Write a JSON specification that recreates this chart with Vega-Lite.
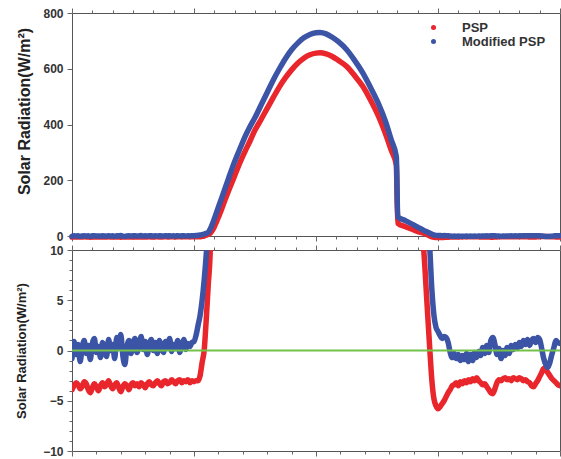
{
  "$schema": "https://vega.github.io/schema/vega-lite/v6.json",
  "padding": {"left": 15, "top": 6, "right": 0, "bottom": 0},
  "spacing": 0,
  "config": {
    "font": "Liberation Sans",
    "view": {"stroke": "#555", "strokeWidth": 1},
    "axis": {
      "domain": false, "grid": false, "tickColor": "#666", "tickWidth": 1, "labelOverlap": false,
      "labelFont": "Liberation Sans", "labelFontWeight": "bold", "labelFontSize": 12, "labelColor": "#333",
      "titleFont": "Liberation Sans", "titleFontWeight": "bold", "titleColor": "#222"
    }
  },
  "datasets": {
    "d": [
      {"h":0,"P":-3.9,"M":-0.8},{"h":0.1,"P":-3.5,"M":0.9},{"h":0.2,"P":-3.2,"M":-0.4},{"h":0.3,"P":-3.4,"M":0.6},
      {"h":0.4,"P":-3.8,"M":-1.1},{"h":0.5,"P":-3.6,"M":0.3},{"h":0.6,"P":-3.1,"M":1.0},{"h":0.7,"P":-3.3,"M":-0.3},
      {"h":0.8,"P":-3.9,"M":0.5},{"h":0.9,"P":-4.2,"M":-0.9},{"h":1.0,"P":-3.7,"M":0.7},{"h":1.1,"P":-3.3,"M":1.2},
      {"h":1.2,"P":-3.6,"M":-0.2},{"h":1.3,"P":-4.0,"M":0.4},{"h":1.4,"P":-3.5,"M":-0.7},{"h":1.5,"P":-3.2,"M":0.8},
      {"h":1.6,"P":-3.6,"M":0.2},{"h":1.7,"P":-3.4,"M":-0.6},{"h":1.8,"P":-3.0,"M":1.1},{"h":1.9,"P":-3.5,"M":0.0},
      {"h":2.0,"P":-3.8,"M":0.6},{"h":2.1,"P":-3.4,"M":-0.8},{"h":2.2,"P":-3.2,"M":1.3},{"h":2.3,"P":-3.7,"M":0.3},
      {"h":2.4,"P":-4.1,"M":1.6},{"h":2.5,"P":-3.6,"M":-0.5},{"h":2.6,"P":-3.3,"M":-1.4},{"h":2.7,"P":-3.5,"M":0.4},
      {"h":2.8,"P":-3.9,"M":1.0},{"h":2.9,"P":-3.4,"M":-0.3},{"h":3.0,"P":-3.2,"M":0.7},{"h":3.1,"P":-3.5,"M":1.2},
      {"h":3.2,"P":-3.3,"M":-0.2},{"h":3.3,"P":-3.6,"M":0.5},{"h":3.4,"P":-3.2,"M":1.4},{"h":3.5,"P":-3.4,"M":0.1},
      {"h":3.6,"P":-3.7,"M":0.9},{"h":3.7,"P":-3.3,"M":-0.4},{"h":3.8,"P":-3.1,"M":0.6},{"h":3.9,"P":-3.4,"M":1.1},
      {"h":4.0,"P":-3.5,"M":0.0},{"h":4.1,"P":-3.2,"M":0.8},{"h":4.2,"P":-3.0,"M":-0.3},{"h":4.3,"P":-3.3,"M":1.0},
      {"h":4.4,"P":-3.5,"M":0.4},{"h":4.5,"P":-3.1,"M":-0.2},{"h":4.6,"P":-3.0,"M":0.9},{"h":4.7,"P":-3.3,"M":0.3},
      {"h":4.8,"P":-3.2,"M":1.2},{"h":4.9,"P":-2.9,"M":-0.1},{"h":5.0,"P":-3.1,"M":0.6},{"h":5.1,"P":-3.3,"M":0.2},
      {"h":5.2,"P":-3.0,"M":1.0},{"h":5.3,"P":-2.9,"M":-0.2},{"h":5.4,"P":-3.2,"M":0.5},{"h":5.5,"P":-3.0,"M":1.1},
      {"h":5.6,"P":-3.1,"M":0.1},{"h":5.7,"P":-2.9,"M":0.7},{"h":5.8,"P":-3.2,"M":0.4},{"h":5.9,"P":-3.0,"M":0.8},
      {"h":6.0,"P":-3.1,"M":0.9},{"h":6.1,"P":-3.0,"M":1.5},{"h":6.2,"P":-3.0,"M":2.5},{"h":6.3,"P":-2.5,"M":3.5},
      {"h":6.4,"P":-1.2,"M":5.0},{"h":6.5,"P":0,"M":7.0},{"h":6.6,"P":3,"M":9.5},{"h":6.7,"P":6.5,"M":13},
      {"h":6.8,"P":10,"M":25},{"h":6.9,"P":20,"M":42},{"h":7.0,"P":33,"M":62},{"h":7.1,"P":50,"M":83},
      {"h":7.3,"P":85,"M":124},{"h":7.5,"P":125,"M":165},{"h":7.7,"P":162,"M":207},{"h":7.9,"P":198,"M":248},
      {"h":8.1,"P":235,"M":285},{"h":8.3,"P":270,"M":320},{"h":8.5,"P":302,"M":355},{"h":8.75,"P":340,"M":392},
      {"h":9.0,"P":380,"M":425},{"h":9.3,"P":418,"M":470},{"h":9.6,"P":458,"M":515},{"h":9.9,"P":497,"M":560},
      {"h":10.2,"P":535,"M":600},{"h":10.5,"P":568,"M":637},{"h":10.8,"P":596,"M":668},{"h":11.1,"P":620,"M":692},
      {"h":11.4,"P":638,"M":711},{"h":11.7,"P":650,"M":723},{"h":12.0,"P":656,"M":729},{"h":12.2,"P":657,"M":730},
      {"h":12.5,"P":653,"M":725},{"h":12.8,"P":644,"M":713},{"h":13.1,"P":630,"M":697},{"h":13.5,"P":609,"M":669},
      {"h":13.9,"P":575,"M":630},{"h":14.3,"P":537,"M":585},{"h":14.7,"P":485,"M":530},{"h":15.1,"P":425,"M":470},
      {"h":15.4,"P":370,"M":415},{"h":15.7,"P":308,"M":345},{"h":15.95,"P":255,"M":285},{"h":16.02,"P":46,"M":69},
      {"h":16.4,"P":33,"M":55},{"h":16.8,"P":22,"M":40},{"h":17.1,"P":14,"M":28},{"h":17.3,"P":10,"M":20},
      {"h":17.45,"P":5,"M":15},{"h":17.6,"P":0,"M":10},{"h":17.7,"P":-3,"M":6},{"h":17.8,"P":-4.8,"M":3.5},
      {"h":17.9,"P":-5.5,"M":2.3},{"h":18.0,"P":-5.8,"M":1.9},{"h":18.1,"P":-5.6,"M":1.5},{"h":18.2,"P":-5.3,"M":1.2},
      {"h":18.3,"P":-5.0,"M":1.4},{"h":18.4,"P":-4.6,"M":1.3},{"h":18.5,"P":-4.2,"M":0.8},{"h":18.6,"P":-3.9,"M":-0.2},
      {"h":18.7,"P":-3.5,"M":-0.7},{"h":18.8,"P":-3.4,"M":-0.3},{"h":18.9,"P":-3.2,"M":-0.8},{"h":19.0,"P":-3.5,"M":-0.4},
      {"h":19.1,"P":-3.1,"M":-1.0},{"h":19.2,"P":-3.3,"M":-0.5},{"h":19.3,"P":-3.0,"M":-0.9},{"h":19.4,"P":-3.2,"M":-0.3},
      {"h":19.5,"P":-2.9,"M":-1.1},{"h":19.6,"P":-3.1,"M":-0.4},{"h":19.7,"P":-2.8,"M":-1.0},{"h":19.8,"P":-3.0,"M":-0.2},
      {"h":19.9,"P":-2.7,"M":-0.7},{"h":20.0,"P":-3.0,"M":-0.1},{"h":20.1,"P":-3.2,"M":-0.5},{"h":20.2,"P":-3.4,"M":0.3},
      {"h":20.3,"P":-3.3,"M":-0.3},{"h":20.4,"P":-3.6,"M":0.5},{"h":20.5,"P":-3.9,"M":-0.2},{"h":20.6,"P":-4.2,"M":1.0},
      {"h":20.7,"P":-4.3,"M":1.3},{"h":20.8,"P":-3.8,"M":0.6},{"h":20.9,"P":-3.2,"M":-0.4},{"h":21.0,"P":-2.9,"M":0.2},
      {"h":21.1,"P":-3.0,"M":-0.8},{"h":21.2,"P":-2.8,"M":0.0},{"h":21.3,"P":-2.7,"M":-0.5},{"h":21.4,"P":-2.9,"M":0.3},
      {"h":21.5,"P":-2.8,"M":-0.3},{"h":21.6,"P":-3.0,"M":0.5},{"h":21.7,"P":-2.7,"M":0.1},{"h":21.8,"P":-2.8,"M":0.6},
      {"h":21.9,"P":-2.9,"M":0.2},{"h":22.0,"P":-2.7,"M":0.8},{"h":22.1,"P":-2.8,"M":0.4},{"h":22.2,"P":-3.0,"M":1.0},
      {"h":22.3,"P":-2.9,"M":0.6},{"h":22.4,"P":-3.1,"M":1.1},{"h":22.5,"P":-3.2,"M":0.5},{"h":22.6,"P":-3.5,"M":1.0},
      {"h":22.7,"P":-3.6,"M":1.2},{"h":22.8,"P":-3.3,"M":0.8},{"h":22.9,"P":-3.0,"M":1.3},{"h":23.0,"P":-2.6,"M":1.1},
      {"h":23.1,"P":-2.2,"M":0.2},{"h":23.2,"P":-1.8,"M":-0.8},{"h":23.3,"P":-1.9,"M":-1.4},{"h":23.4,"P":-2.2,"M":-1.7},
      {"h":23.5,"P":-2.5,"M":-1.2},{"h":23.6,"P":-2.8,"M":-0.4},{"h":23.7,"P":-3.0,"M":0.3},{"h":23.8,"P":-3.2,"M":1.0},
      {"h":23.9,"P":-3.4,"M":0.8},{"h":24.0,"P":-3.5,"M":0.7}
    ],
    "zero": [{"h": 0, "z": 0}, {"h": 24, "z": 0}]
  },
  "vconcat": [
    {
      "width": 488, "height": 223,
      "data": {"name": "d"},
      "layer": [
        {
          "mark": {"type": "rule", "opacity": 0},
          "encoding": {
            "x": {"field": "h", "type": "quantitative", "scale": {"domain": [0, 24]},
              "axis": {"orient": "top", "values": [0,1,2,3,4,5,6,7,8,9,10,11,12,13,14,15,16,17,18,19,20,21,22,23,24], "labels": false, "title": null,
                "tickSize": {"condition": {"test": "datum.value % 6 === 0", "value": 5}, "value": 3}}}
          }
        },
        {
          "encoding": {
            "x": {"field": "h", "type": "quantitative", "scale": {"domain": [0, 24]},
              "axis": {"orient": "bottom", "values": [0,1,2,3,4,5,6,7,8,9,10,11,12,13,14,15,16,17,18,19,20,21,22,23,24], "labels": false, "title": null,
                "tickSize": {"condition": {"test": "datum.value % 6 === 0", "value": 5}, "value": 3}}}
          },
          "layer": [
            {
              "mark": {"type": "line", "strokeWidth": 5.5, "interpolate": "monotone", "strokeCap": "round", "strokeJoin": "round"},
              "encoding": {
                "y": {"field": "P", "type": "quantitative", "scale": {"domain": [0, 800]},
                  "axis": {"values": [0,50,100,150,200,250,300,350,400,450,500,550,600,650,700,750,800],
                    "labelExpr": "datum.value % 200 === 0 ? datum.label : ''", "labelOverlap": false,
                    "tickSize": {"condition": {"test": "datum.value % 200 === 0", "value": 5}, "value": 3},
                    "labelPadding": 4, "title": "Solar Radiation(W/m²)", "titleFontSize": 16, "titlePadding": 10, "titleY": 98}},
                "color": {"datum": "PSP", "type": "nominal",
                  "scale": {"domain": ["PSP", "Modified PSP"], "range": ["#e8262b", "#3b54a5"]},
                  "legend": {"title": null, "orient": "none", "legendX": 355, "legendY": 8, "symbolType": "circle", "symbolSize": 25,
                    "labelFont": "Liberation Sans", "labelFontWeight": "bold", "labelFontSize": 13, "labelColor": "#333",
                    "labelOffset": 22, "rowPadding": 0,
                    "encode": {"symbols": {"update": {"fill": {"scale": "color", "field": "value"}, "strokeWidth": {"value": 0}}}}}}
              }
            },
            {
              "mark": {"type": "line", "strokeWidth": 5.5, "interpolate": "monotone", "strokeCap": "round", "strokeJoin": "round"},
              "encoding": {
                "y": {"field": "M", "type": "quantitative", "scale": {"domain": [0, 800]}, "axis": {"title": "Solar Radiation(W/m²)"}},
                "color": {"datum": "Modified PSP", "type": "nominal"}
              }
            }
          ]
        }
      ],
      "resolve": {"scale": {"x": "independent"}}
    },
    {
      "width": 488, "height": 201,
      "layer": [
        {
          "data": {"name": "d"},
          "mark": {"type": "rule", "opacity": 0},
          "encoding": {
            "x": {"field": "h", "type": "quantitative", "scale": {"domain": [0, 24]},
              "axis": {"orient": "top", "values": [0,1,2,3,4,5,6,7,8,9,10,11,12,13,14,15,16,17,18,19,20,21,22,23,24], "labels": false, "title": null,
                "tickSize": {"condition": {"test": "datum.value % 6 === 0", "value": 5}, "value": 3}}}
          }
        },
        {
          "data": {"name": "zero"},
          "mark": {"type": "rule", "opacity": 0},
          "encoding": {
            "y": {"field": "z", "type": "quantitative", "scale": {"domain": [-10, 10]},
              "axis": {"orient": "left", "values": [-9,-8,-7,-6,-4,-3,-2,-1,1,2,3,4,6,7,8,9], "labels": false, "title": null, "tickSize": 3}}
          }
        },
        {
          "encoding": {
            "x": {"field": "h", "type": "quantitative", "scale": {"domain": [0, 24]},
              "axis": {"orient": "bottom", "values": [0,1.2,2.4,3.6,4.8,6,7.2,8.4,9.6,10.8,12,13.2,14.4,15.6,16.8,18,19.2,20.4,21.6,22.8,24], "labels": false, "title": null,
                "tickSize": {"condition": {"test": "abs(datum.value / 6 - round(datum.value / 6)) < 0.01", "value": 5}, "value": 3}}}
          },
          "layer": [
            {
              "data": {"name": "d"},
              "mark": {"type": "line", "strokeWidth": 5.5, "interpolate": "monotone", "clip": true, "color": "#e8262b", "strokeCap": "round", "strokeJoin": "round"},
              "encoding": {
                "y": {"field": "P", "type": "quantitative", "scale": {"domain": [-10, 10]},
                  "axis": {"orient": "left", "values": [-10, -5, 0, 5, 10], "tickSize": 5,
                    "labelPadding": 4, "title": "Solar Radiation(W/m²)", "titleFontSize": 13, "titlePadding": 14}}
              }
            },
            {
              "data": {"name": "d"},
              "mark": {"type": "line", "strokeWidth": 5.5, "interpolate": "monotone", "clip": true, "color": "#3b54a5", "strokeCap": "round", "strokeJoin": "round"},
              "encoding": {
                "y": {"field": "M", "type": "quantitative", "scale": {"domain": [-10, 10]}, "axis": {"orient": "left", "title": "Solar Radiation(W/m²)"}}
              }
            },
            {
              "data": {"name": "zero"},
              "mark": {"type": "line", "color": "#72c247", "strokeWidth": 2},
              "encoding": {
                "y": {"field": "z", "type": "quantitative", "axis": {"orient": "left", "title": "Solar Radiation(W/m²)"}}
              }
            }
          ]
        }
      ],
      "resolve": {"scale": {"x": "independent", "y": "independent"}}
    }
  ]
}
